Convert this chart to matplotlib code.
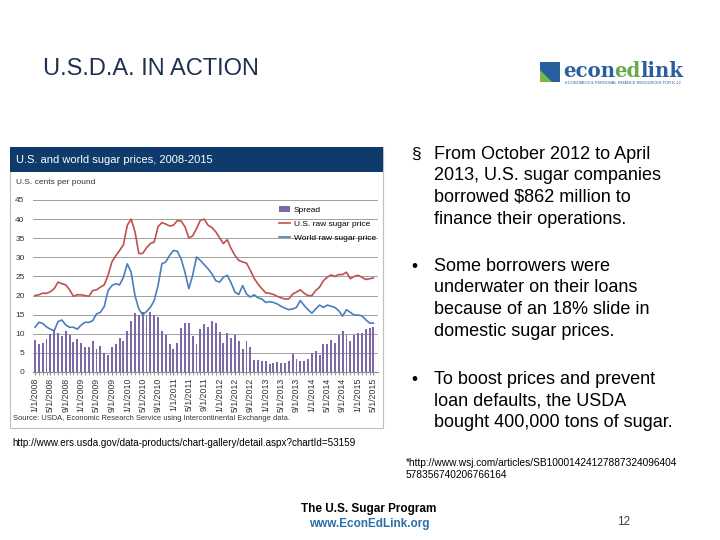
import matplotlib as mpl
mpl.use('Agg')

import matplotlib.pyplot as plt
from matplotlib.patches import Rectangle, Polygon
import numpy as np

plt.rcParams['font.family'] = ['Liberation Sans', 'DejaVu Sans']

# monthly data, Jan 2008 .. May 2015 (cents per pound)
us_price = [20.0, 20.2, 20.6, 20.6, 21.0, 21.8, 23.5, 23.1, 22.8, 21.5,
            19.8, 20.2, 20.2, 20.0, 19.8, 21.3, 21.5, 22.2, 22.8, 25.3,
            28.8, 30.4, 31.8, 33.3, 38.4, 40.0, 36.7, 31.0, 31.0, 32.5,
            33.6, 34.0, 38.0, 39.1, 38.7, 38.2, 38.4, 39.6, 39.5, 38.0,
            35.1, 35.6, 37.5, 39.7, 40.0, 38.4, 37.8, 36.7, 35.1, 33.6,
            34.6, 32.3, 30.5, 29.2, 28.8, 28.5, 26.6, 24.5, 23.0, 21.8,
            20.7, 20.6, 20.3, 19.8, 19.4, 19.1, 19.1, 20.4, 20.9, 21.5,
            20.6, 20.0, 20.0, 21.3, 22.2, 23.9, 24.8, 25.4, 25.0, 25.5,
            25.5, 26.1, 24.4, 25.0, 25.3, 24.8, 24.2, 24.4, 24.6]
world_price = [11.7, 13.0, 12.7, 11.8, 11.2, 10.8, 13.2, 13.6, 12.3, 11.7,
               11.7, 11.2, 12.3, 13.0, 13.0, 13.4, 15.2, 15.6, 17.1, 21.3,
               22.6, 23.1, 22.8, 24.8, 28.3, 26.1, 20.0, 16.5, 15.0, 15.8,
               16.9, 18.7, 22.6, 28.3, 28.8, 30.5, 31.8, 31.6, 29.6, 26.1,
               21.8, 25.3, 30.1, 29.2, 28.1, 27.0, 25.7, 23.9, 23.5, 24.8,
               25.3, 23.3, 20.9, 20.3, 22.6, 20.4, 19.6, 20.2, 19.4, 19.1,
               18.2, 18.4, 18.2, 17.8, 17.2, 16.7, 16.3, 16.5, 16.9, 18.7,
               17.4, 16.3, 15.4, 16.5, 17.5, 16.9, 17.5, 17.2, 16.9, 16.0,
               14.6, 16.3, 15.6, 14.9, 14.9, 14.7, 13.7, 12.8, 12.8]
spread = [8.5, 7.2, 7.7, 8.6, 9.9, 10.7, 10.3, 9.4, 10.7, 9.8,
          7.9, 8.6, 7.7, 6.6, 6.6, 8.2, 6.1, 6.8, 5.0, 4.4,
          6.6, 7.2, 8.9, 8.2, 10.8, 13.4, 15.5, 14.9, 15.6, 14.7,
          15.8, 14.9, 14.5, 10.7, 9.8, 7.2, 6.1, 7.7, 11.4, 12.9,
          12.9, 9.5, 7.2, 11.2, 12.5, 11.8, 13.3, 12.7, 10.5, 7.7,
          10.1, 8.8, 9.8, 8.2, 5.9, 8.2, 6.6, 3.2, 3.1, 2.8,
          2.8, 2.2, 2.4, 2.6, 2.4, 2.4, 2.8, 4.6, 3.5, 2.8,
          2.8, 3.3, 5.0, 5.4, 4.4, 7.2, 7.2, 8.3, 7.6, 9.6,
          10.7, 9.8, 8.2, 9.8, 10.1, 10.1, 11.2, 11.4, 11.8]
tick_labels = ['%d/1/%d' % (m, y) for y in range(2008, 2016) for m in (1, 5, 9)][:23]

bullets = [
    ('\u00a7', ['From October 2012 to April', '2013, U.S. sugar companies',
                'borrowed $862 million to', 'finance their operations.'], 159),
    ('\u2022', ['Some borrowers were', 'underwater on their loans',
                'because of an 18% slide in', 'domestic sugar prices.'], 271),
    ('\u2022', ['To boost prices and prevent', 'loan defaults, the USDA',
                'bought 400,000 tons of sugar.'], 384),
]

W, H = 720, 540
def fx(x): return x / W
def fy(y): return 1 - y / H

fig = plt.figure(figsize=(7.2, 5.4), dpi=100)

# title
fig.text(fx(43), fy(75), 'U.S.D.A. IN ACTION', fontsize=17, color='#1f3050', va='baseline')

# logo
fig.add_artist(Rectangle((fx(540), fy(82)), 20 / W, 20 / H, transform=fig.transFigure,
                         fc='#2a5f9e', ec='none'))
fig.add_artist(Polygon([(fx(540), fy(82)), (fx(540), fy(70)), (fx(552), fy(82))],
                       closed=True, transform=fig.transFigure, fc='#7ab648', ec='none'))
r = fig.canvas.get_renderer()
x0 = fx(563)
for part, col in [('econ', '#2a5f9e'), ('ed', '#6aa84f'), ('link', '#2a5f9e')]:
    t = fig.text(x0, fy(77), part, fontsize=14.2, fontweight='bold', color=col,
                 family='DejaVu Serif', va='baseline')
    bb = t.get_window_extent(renderer=r)
    x0 += bb.width / W - 0.001
fig.text(fx(565), fy(83), 'ECONOMICS & PERSONAL FINANCE RESOURCES FOR K-12',
         fontsize=2.9, color='#2a5f9e', va='center')

# chart frame and header
fig.add_artist(Rectangle((fx(10), fy(428)), 373 / W, 281 / H, transform=fig.transFigure,
                         fill=False, ec='#c0c0c0', lw=0.8))
fig.add_artist(Rectangle((fx(10), fy(172)), 373 / W, 25 / H, transform=fig.transFigure,
                         fc='#0e3b6c', ec='none'))
fig.text(fx(16), fy(160), 'U.S. and world sugar prices, 2008-2015', color='white',
         fontsize=8, va='center')
fig.text(fx(16), fy(183), 'U.S. cents per pound', color='#333333', fontsize=6, va='center')
fig.text(fx(13), fy(418), 'Source: USDA, Economic Research Service using Intercontinental Exchange data.',
         color='#333333', fontsize=5.4, va='center')

ax = fig.add_axes([fx(33), fy(372), 345 / W, 172 / H])
months = np.arange(len(us_price))
b = ax.bar(months, spread, width=0.5, color='#7d68a8', label='Spread', zorder=2)
l1, = ax.plot(months, us_price, color='#c0504d', lw=1.2, label='U.S. raw sugar price', zorder=3)
l2, = ax.plot(months, world_price, color='#4a7ebb', lw=1.2, label='World raw sugar price', zorder=3)
ax.set_ylim(0, 45)
ax.set_xlim(-0.52, 89.2)
ax.set_yticks(range(0, 46, 5))
ax.yaxis.grid(True, color='#a0a0a0', lw=0.7, zorder=0)
ax.set_axisbelow(True)
for s in ['top', 'right', 'left']:
    ax.spines[s].set_visible(False)
ax.spines['bottom'].set_color('#8a8a8a')
ax.set_xticks(months[::4])
ax.set_xticklabels(tick_labels, rotation=90, fontsize=6.3, color='#333333')
ax.set_xticks(months, minor=True)
ax.tick_params(axis='x', which='both', length=2, color='#8a8a8a', pad=2)
ax.tick_params(axis='y', length=0, labelsize=6, pad=6, labelcolor='#333333')
ax.legend([b, l1, l2], ['Spread', 'U.S. raw sugar price', 'World raw sugar price'],
          loc='upper right', bbox_to_anchor=(1.015, 1.01), frameon=False, fontsize=6,
          handlelength=1.4, labelspacing=0.75, handletextpad=0.4)

# bullets
for mark, lines, base in bullets:
    fig.text(fx(411), fy(base), mark, fontsize=12.5, va='baseline')
    for i, line in enumerate(lines):
        fig.text(fx(434), fy(base + i * 21.5), line, fontsize=13, va='baseline')

fig.text(fx(12), fy(446), 'http://www.ers.usda.gov/data-products/chart-gallery/detail.aspx?chartId=53159',
         fontsize=7.1, va='baseline')
fig.text(fx(406), fy(466), '*http://www.wsj.com/articles/SB10001424127887324096404', fontsize=7.3, va='baseline')
fig.text(fx(406), fy(478), '578356740206766164', fontsize=7.3, va='baseline')

fig.text(fx(369), fy(512), 'The U.S. Sugar Program', fontsize=8.5, fontweight='bold', ha='center', va='baseline')
fig.text(fx(369), fy(527), 'www.EconEdLink.org', fontsize=8.5, fontweight='bold', color='#2a6fa8',
         ha='center', va='baseline')
fig.text(fx(624), fy(525), '12', fontsize=8.5, color='#404040', ha='center', va='baseline')

fig.savefig('out.png', dpi=100)
